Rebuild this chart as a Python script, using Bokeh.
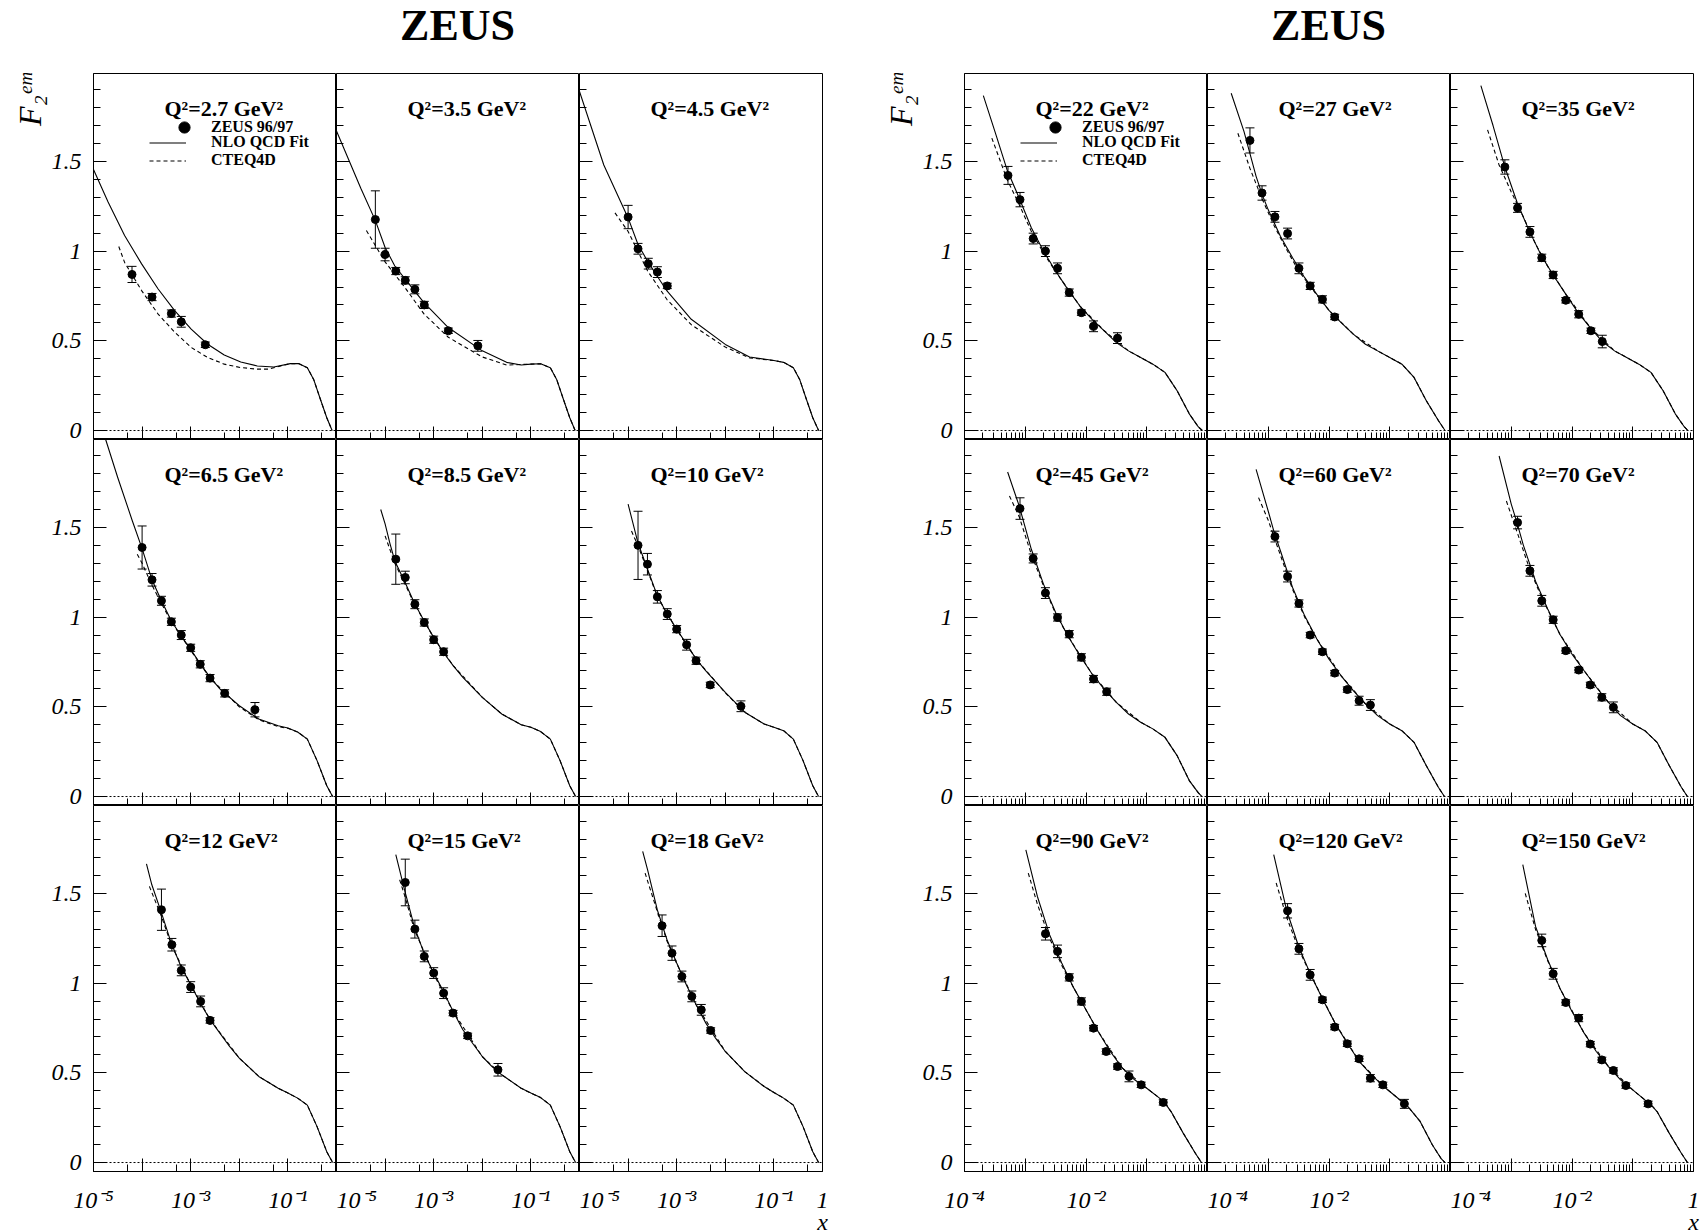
import numpy as np
from bokeh.plotting import figure
from bokeh.models import (Range1d, FixedTicker, Whisker, TeeHead, ColumnDataSource,
                          Label, Span, Legend, LegendItem, Title)
from bokeh.layouts import gridplot, column
from bokeh.embed import file_html
from bokeh.resources import INLINE

# ---------------- data ----------------
q2_labels = ["2.7", "3.5", "4.5", "6.5", "8.5", "10", "12", "15", "18",
             "22", "27", "35", "45", "60", "70", "90", "120", "150"]
group_titles = ["ZEUS", "ZEUS"]

# points: x, F2, total error ; curves: log10(x) grid and F2 values
p01_x = [6.2e-5, 1.6e-4, 4.0e-4, 6.4e-4, 2.0e-3]
p01_y = [0.87, 0.744, 0.652, 0.606, 0.478]
p01_e = [0.045, 0.02, 0.02, 0.03, 0.015]
p01_fit_lx = [-5.0, -4.7, -4.36, -4.01, -3.67, -3.33, -2.99, -2.65, -2.31, -1.97, -1.63, -1.29, -0.95, -0.78, -0.6, -0.47, -0.33, -0.2, -0.09]
p01_fit_y = [1.455, 1.274, 1.087, 0.929, 0.789, 0.668, 0.565, 0.481, 0.421, 0.382, 0.360, 0.354, 0.373, 0.373, 0.35, 0.285, 0.173, 0.071, 0.0]
p01_cteq_lx = [-4.48, -4.36, -4.01, -3.67, -3.33, -2.99, -2.65, -2.31, -1.97, -1.63, -1.4, -1.29, -0.95, -0.78, -0.6, -0.47, -0.33, -0.2, -0.09]
p01_cteq_y = [1.026, 0.937, 0.780, 0.649, 0.548, 0.463, 0.407, 0.370, 0.351, 0.342, 0.342, 0.350, 0.373, 0.373, 0.35, 0.285, 0.173, 0.071, 0.0]

p02_x = [6.3e-5, 1.0e-4, 1.66e-4, 2.6e-4, 4.1e-4, 6.4e-4, 2.0e-3, 8.1e-3]
p02_y = [1.176, 0.981, 0.889, 0.837, 0.787, 0.70, 0.556, 0.472]
p02_e = [0.16, 0.035, 0.02, 0.02, 0.025, 0.02, 0.015, 0.03]
p02_fit_lx = [-5.0, -4.5, -4.2, -4.0, -3.8, -3.4, -3.2, -2.7, -2.0, -1.5, -1.2, -1.0, -0.8, -0.6, -0.47, -0.33, -0.2, -0.09]
p02_fit_y = [1.67, 1.35, 1.17, 1.02, 0.917, 0.78, 0.713, 0.574, 0.444, 0.38, 0.365, 0.37, 0.372, 0.35, 0.285, 0.173, 0.071, 0.0]
p02_cteq_lx = [-4.385, -4.0, -3.6, -3.2, -2.7, -2.0, -1.5, -1.0, -0.8, -0.6, -0.47, -0.33, -0.2, -0.09]
p02_cteq_y = [1.115, 0.94, 0.80, 0.65, 0.52, 0.41, 0.365, 0.37, 0.372, 0.35, 0.285, 0.173, 0.071, 0.0]

p03_x = [1.0e-4, 1.6e-4, 2.6e-4, 4.0e-4, 6.4e-4]
p03_y = [1.19, 1.013, 0.93, 0.883, 0.806]
p03_e = [0.065, 0.03, 0.03, 0.03, 0.015]
p03_fit_lx = [-5.0, -4.5, -4.0, -3.8, -3.6, -3.4, -3.2, -2.7, -2.0, -1.5, -1.0, -0.8, -0.6, -0.47, -0.33, -0.2, -0.08]
p03_fit_y = [1.89, 1.48, 1.185, 1.04, 0.944, 0.86, 0.778, 0.62, 0.48, 0.41, 0.39, 0.38, 0.35, 0.285, 0.173, 0.071, 0.0]
p03_cteq_lx = [-4.27, -4.0, -3.6, -3.2, -2.7, -2.0, -1.5, -1.0, -0.8, -0.6, -0.47, -0.33, -0.2, -0.08]
p03_cteq_y = [1.213, 1.11, 0.89, 0.73, 0.59, 0.465, 0.405, 0.39, 0.38, 0.35, 0.285, 0.173, 0.071, 0.0]

p04_x = [1.0e-4, 1.6e-4, 2.5e-4, 4.0e-4, 6.4e-4, 1.0e-3, 1.57e-3, 2.5e-3, 5.0e-3, 2.1e-2]
p04_y = [1.388, 1.208, 1.091, 0.974, 0.90, 0.829, 0.737, 0.660, 0.575, 0.484]
p04_e = [0.12, 0.035, 0.025, 0.02, 0.025, 0.02, 0.02, 0.02, 0.02, 0.04]
p04_fit_lx = [-4.75, -4.5, -4.2, -4.0, -3.8, -3.6, -3.4, -3.2, -3.0, -2.8, -2.6, -2.4, -2.0, -1.6, -1.2, -1.0, -0.8, -0.6, -0.4, -0.2, -0.08]
p04_fit_y = [1.99, 1.777, 1.536, 1.382, 1.21, 1.09, 0.98, 0.896, 0.82, 0.738, 0.664, 0.60, 0.506, 0.432, 0.395, 0.382, 0.36, 0.32, 0.20, 0.06, 0.0]
p04_cteq_lx = [-4.1, -4.0, -3.8, -3.6, -3.4, -3.0, -2.6, -2.0, -1.6, -1.2, -1.0, -0.8, -0.6, -0.4, -0.2, -0.08]
p04_cteq_y = [1.35, 1.30, 1.18, 1.075, 0.975, 0.815, 0.66, 0.50, 0.428, 0.39, 0.38, 0.36, 0.32, 0.20, 0.06, 0.0]

p05_x = [1.66e-4, 2.6e-4, 4.1e-4, 6.4e-4, 1.0e-3, 1.6e-3]
p05_y = [1.323, 1.221, 1.072, 0.970, 0.874, 0.807]
p05_e = [0.14, 0.035, 0.025, 0.02, 0.02, 0.02]
p05_fit_lx = [-4.09, -4.0, -3.9, -3.8, -3.6, -3.4, -3.2, -3.0, -2.8, -2.6, -2.4, -2.0, -1.6, -1.2, -1.0, -0.8, -0.6, -0.4, -0.2, -0.08]
p05_fit_y = [1.60, 1.52, 1.41, 1.313, 1.20, 1.08, 0.98, 0.887, 0.803, 0.73, 0.664, 0.553, 0.46, 0.40, 0.386, 0.362, 0.32, 0.20, 0.06, 0.0]
p05_cteq_lx = [-4.0, -3.8, -3.6, -3.4, -3.0, -2.6, -2.0, -1.6, -1.2, -1.0, -0.8, -0.6, -0.4, -0.2, -0.08]
p05_cteq_y = [1.453, 1.30, 1.19, 1.075, 0.885, 0.73, 0.553, 0.46, 0.40, 0.386, 0.362, 0.32, 0.20, 0.06, 0.0]

p06_x = [1.6e-4, 2.5e-4, 4.0e-4, 6.4e-4, 1.0e-3, 1.6e-3, 2.5e-3, 4.9e-3, 2.1e-2]
p06_y = [1.40, 1.295, 1.113, 1.017, 0.933, 0.846, 0.757, 0.622, 0.503]
p06_e = [0.19, 0.06, 0.035, 0.03, 0.02, 0.03, 0.02, 0.015, 0.03]
p06_fit_lx = [-4.0, -3.8, -3.6, -3.4, -3.2, -3.0, -2.8, -2.6, -2.4, -2.0, -1.6, -1.2, -1.0, -0.8, -0.6, -0.4, -0.2, -0.08]
p06_fit_y = [1.63, 1.416, 1.267, 1.12, 1.017, 0.933, 0.85, 0.766, 0.70, 0.58, 0.47, 0.404, 0.386, 0.367, 0.32, 0.20, 0.06, 0.0]
p06_cteq_lx = [-3.93, -3.8, -3.6, -3.4, -3.0, -2.6, -2.0, -1.6, -1.2, -1.0, -0.8, -0.6, -0.4, -0.2, -0.08]
p06_cteq_y = [1.48, 1.40, 1.26, 1.115, 0.93, 0.766, 0.578, 0.47, 0.404, 0.386, 0.367, 0.32, 0.20, 0.06, 0.0]

p07_x = [2.5e-4, 4.1e-4, 6.4e-4, 1.0e-3, 1.6e-3, 2.5e-3]
p07_y = [1.409, 1.214, 1.071, 0.978, 0.898, 0.792]
p07_e = [0.115, 0.035, 0.03, 0.03, 0.03, 0.015]
p07_fit_lx = [-3.91, -3.8, -3.6, -3.4, -3.2, -3.0, -2.8, -2.6, -2.4, -2.2, -2.0, -1.6, -1.2, -1.0, -0.8, -0.6, -0.4, -0.2, -0.08]
p07_fit_y = [1.665, 1.548, 1.39, 1.223, 1.093, 0.991, 0.888, 0.796, 0.721, 0.647, 0.582, 0.48, 0.414, 0.387, 0.359, 0.32, 0.20, 0.06, 0.0]
p07_cteq_lx = [-3.85, -3.6, -3.4, -3.0, -2.6, -2.0, -1.6, -1.2, -1.0, -0.8, -0.6, -0.4, -0.2, -0.08]
p07_cteq_y = [1.539, 1.37, 1.215, 0.99, 0.796, 0.582, 0.48, 0.414, 0.387, 0.359, 0.32, 0.20, 0.06, 0.0]

p08_x = [2.6e-4, 4.1e-4, 6.4e-4, 1.0e-3, 1.6e-3, 2.5e-3, 5.0e-3, 2.1e-2]
p08_y = [1.561, 1.301, 1.149, 1.056, 0.944, 0.833, 0.706, 0.517]
p08_e = [0.13, 0.05, 0.03, 0.03, 0.03, 0.015, 0.015, 0.035]
p08_fit_lx = [-3.78, -3.6, -3.4, -3.2, -3.0, -2.8, -2.6, -2.4, -2.2, -2.0, -1.8, -1.6, -1.2, -1.0, -0.8, -0.6, -0.4, -0.2, -0.08]
p08_fit_y = [1.716, 1.52, 1.316, 1.167, 1.056, 0.954, 0.842, 0.74, 0.665, 0.591, 0.535, 0.489, 0.414, 0.387, 0.362, 0.32, 0.20, 0.06, 0.0]
p08_cteq_lx = [-3.70, -3.6, -3.4, -3.0, -2.6, -2.0, -1.6, -1.2, -1.0, -0.8, -0.6, -0.4, -0.2, -0.08]
p08_cteq_y = [1.576, 1.49, 1.30, 1.05, 0.842, 0.59, 0.489, 0.414, 0.387, 0.362, 0.32, 0.20, 0.06, 0.0]

p09_x = [5.0e-4, 8.0e-4, 1.28e-3, 2.05e-3, 3.2e-3, 5.0e-3]
p09_y = [1.32, 1.167, 1.037, 0.926, 0.851, 0.736]
p09_e = [0.06, 0.04, 0.03, 0.03, 0.03, 0.015]
p09_fit_lx = [-3.70, -3.6, -3.4, -3.2, -3.0, -2.8, -2.6, -2.4, -2.2, -2.0, -1.6, -1.2, -1.0, -0.8, -0.6, -0.4, -0.2, -0.08]
p09_fit_y = [1.734, 1.632, 1.409, 1.242, 1.112, 0.99, 0.879, 0.777, 0.693, 0.619, 0.507, 0.424, 0.39, 0.359, 0.32, 0.20, 0.06, 0.0]
p09_cteq_lx = [-3.65, -3.4, -3.2, -3.0, -2.6, -2.0, -1.6, -1.2, -1.0, -0.8, -0.6, -0.4, -0.2, -0.08]
p09_cteq_y = [1.613, 1.40, 1.235, 1.11, 0.879, 0.619, 0.507, 0.424, 0.39, 0.359, 0.32, 0.20, 0.06, 0.0]

p10_x = [5.2e-4, 8.2e-4, 1.35e-3, 2.15e-3, 3.4e-3, 5.3e-3, 8.4e-3, 1.33e-2, 3.3e-2]
p10_y = [1.422, 1.287, 1.07, 1.0, 0.904, 0.769, 0.657, 0.581, 0.515]
p10_e = [0.05, 0.04, 0.03, 0.03, 0.03, 0.02, 0.015, 0.03, 0.03]
p10_fit_lx = [-3.69, -3.5, -3.3, -3.1, -2.9, -2.7, -2.5, -2.3, -2.1, -1.9, -1.7, -1.5, -1.3, -1.1, -0.9, -0.7, -0.5, -0.3, -0.15, -0.085]
p10_fit_y = [1.867, 1.667, 1.454, 1.296, 1.13, 1.0, 0.889, 0.787, 0.694, 0.62, 0.556, 0.49, 0.444, 0.407, 0.37, 0.324, 0.222, 0.093, 0.02, 0.0]
p10_cteq_lx = [-3.55, -3.3, -3.1, -2.9, -2.7, -2.5, -2.1, -1.7, -1.3, -1.1, -0.9, -0.7, -0.5, -0.3, -0.15, -0.085]
p10_cteq_y = [1.63, 1.40, 1.26, 1.11, 0.99, 0.885, 0.694, 0.556, 0.444, 0.407, 0.37, 0.324, 0.222, 0.093, 0.02, 0.0]

p11_x = [5.0e-4, 7.9e-4, 1.29e-3, 2.08e-3, 3.2e-3, 4.9e-3, 7.8e-3, 1.24e-2]
p11_y = [1.617, 1.324, 1.191, 1.098, 0.904, 0.806, 0.731, 0.633]
p11_e = [0.07, 0.04, 0.03, 0.03, 0.03, 0.02, 0.02, 0.015]
p11_fit_lx = [-3.61, -3.4, -3.2, -3.1, -3.0, -2.8, -2.6, -2.4, -2.2, -2.0, -1.8, -1.6, -1.4, -1.2, -1.0, -0.8, -0.6, -0.4, -0.2, -0.09]
p11_fit_y = [1.88, 1.667, 1.417, 1.315, 1.23, 1.083, 0.963, 0.852, 0.759, 0.67, 0.602, 0.537, 0.481, 0.444, 0.407, 0.37, 0.296, 0.167, 0.056, 0.0]
p11_cteq_lx = [-3.50, -3.3, -3.1, -2.9, -2.7, -2.5, -2.2, -2.0, -1.6, -1.2, -1.0, -0.8, -0.6, -0.4, -0.2, -0.09]
p11_cteq_y = [1.657, 1.46, 1.29, 1.14, 1.01, 0.89, 0.755, 0.67, 0.537, 0.444, 0.407, 0.37, 0.296, 0.167, 0.056, 0.0]

p12_x = [7.85e-4, 1.27e-3, 2.03e-3, 3.18e-3, 4.9e-3, 7.9e-3, 1.29e-2, 2.05e-2, 3.15e-2]
p12_y = [1.469, 1.241, 1.107, 0.963, 0.867, 0.726, 0.648, 0.556, 0.496]
p12_e = [0.04, 0.025, 0.03, 0.02, 0.02, 0.015, 0.02, 0.015, 0.035]
p12_fit_lx = [-3.50, -3.3, -3.1, -2.9, -2.7, -2.5, -2.3, -2.1, -1.9, -1.7, -1.5, -1.3, -1.1, -0.9, -0.7, -0.5, -0.3, -0.15, -0.09]
p12_fit_y = [1.922, 1.70, 1.463, 1.268, 1.11, 0.972, 0.861, 0.759, 0.657, 0.574, 0.496, 0.444, 0.407, 0.37, 0.324, 0.222, 0.093, 0.02, 0.0]
p12_cteq_lx = [-3.39, -3.2, -3.0, -2.8, -2.6, -2.4, -2.1, -1.7, -1.3, -1.1, -0.9, -0.7, -0.5, -0.3, -0.15, -0.09]
p12_cteq_y = [1.676, 1.48, 1.33, 1.19, 1.04, 0.915, 0.759, 0.574, 0.444, 0.407, 0.37, 0.324, 0.222, 0.093, 0.02, 0.0]

p13_x = [8.2e-4, 1.35e-3, 2.15e-3, 3.4e-3, 5.3e-3, 8.4e-3, 1.33e-2, 2.19e-2]
p13_y = [1.605, 1.327, 1.134, 0.998, 0.905, 0.776, 0.655, 0.584]
p13_e = [0.06, 0.025, 0.03, 0.02, 0.02, 0.02, 0.02, 0.02]
p13_fit_lx = [-3.29, -3.1, -2.9, -2.7, -2.5, -2.3, -2.1, -1.9, -1.7, -1.5, -1.3, -1.1, -0.9, -0.7, -0.5, -0.3, -0.15, -0.09]
p13_fit_y = [1.809, 1.62, 1.378, 1.184, 1.026, 0.896, 0.785, 0.683, 0.599, 0.525, 0.46, 0.414, 0.377, 0.33, 0.228, 0.089, 0.02, 0.0]
p13_cteq_lx = [-3.26, -3.1, -2.9, -2.7, -2.5, -2.3, -1.9, -1.5, -1.1, -0.9, -0.7, -0.5, -0.3, -0.15, -0.09]
p13_cteq_y = [1.675, 1.56, 1.35, 1.175, 1.02, 0.896, 0.683, 0.525, 0.414, 0.377, 0.33, 0.228, 0.089, 0.02, 0.0]

p14_x = [1.29e-3, 2.08e-3, 3.2e-3, 4.9e-3, 7.8e-3, 1.24e-2, 2.0e-2, 3.13e-2, 4.8e-2]
p14_y = [1.449, 1.226, 1.076, 0.90, 0.807, 0.688, 0.596, 0.534, 0.51]
p14_e = [0.03, 0.03, 0.02, 0.015, 0.015, 0.015, 0.015, 0.025, 0.03]
p14_fit_lx = [-3.20, -3.0, -2.9, -2.8, -2.6, -2.4, -2.2, -2.0, -1.8, -1.6, -1.4, -1.2, -1.0, -0.8, -0.6, -0.4, -0.2, -0.1]
p14_fit_y = [1.824, 1.59, 1.47, 1.37, 1.165, 1.007, 0.878, 0.766, 0.673, 0.59, 0.516, 0.451, 0.404, 0.367, 0.302, 0.173, 0.052, 0.0]
p14_cteq_lx = [-3.16, -3.0, -2.8, -2.6, -2.4, -2.2, -1.8, -1.4, -1.0, -0.8, -0.6, -0.4, -0.2, -0.1]
p14_cteq_y = [1.666, 1.54, 1.345, 1.155, 1.0, 0.878, 0.673, 0.516, 0.404, 0.367, 0.302, 0.173, 0.052, 0.0]

p15_x = [1.27e-3, 2.03e-3, 3.18e-3, 4.9e-3, 7.9e-3, 1.29e-2, 2.0e-2, 3.1e-2, 4.8e-2]
p15_y = [1.527, 1.258, 1.091, 0.985, 0.813, 0.705, 0.622, 0.553, 0.497]
p15_e = [0.035, 0.03, 0.03, 0.02, 0.015, 0.015, 0.015, 0.02, 0.03]
p15_fit_lx = [-3.20, -3.0, -2.9, -2.8, -2.6, -2.4, -2.2, -2.0, -1.8, -1.6, -1.4, -1.2, -1.0, -0.8, -0.6, -0.4, -0.2, -0.1]
p15_fit_y = [1.898, 1.63, 1.52, 1.40, 1.20, 1.045, 0.905, 0.794, 0.701, 0.609, 0.525, 0.451, 0.404, 0.367, 0.302, 0.173, 0.052, 0.0]
p15_cteq_lx = [-3.08, -2.9, -2.7, -2.5, -2.2, -1.8, -1.4, -1.0, -0.8, -0.6, -0.4, -0.2, -0.1]
p15_cteq_y = [1.647, 1.47, 1.27, 1.11, 0.905, 0.701, 0.525, 0.404, 0.367, 0.302, 0.173, 0.052, 0.0]

p16_x = [2.15e-3, 3.4e-3, 5.3e-3, 8.4e-3, 1.33e-2, 2.15e-2, 3.3e-2, 5.1e-2, 8.1e-2, 0.187]
p16_y = [1.275, 1.177, 1.032, 0.898, 0.749, 0.619, 0.535, 0.48, 0.433, 0.335]
p16_e = [0.035, 0.035, 0.02, 0.02, 0.015, 0.015, 0.015, 0.03, 0.015, 0.015]
p16_fit_lx = [-2.99, -2.8, -2.6, -2.4, -2.2, -2.0, -1.8, -1.6, -1.4, -1.2, -1.0, -0.8, -0.7, -0.6, -0.4, -0.2, -0.1]
p16_fit_y = [1.743, 1.483, 1.27, 1.112, 0.972, 0.851, 0.73, 0.619, 0.526, 0.461, 0.414, 0.362, 0.331, 0.284, 0.164, 0.052, 0.0]
p16_cteq_lx = [-2.95, -2.8, -2.6, -2.4, -2.2, -1.8, -1.4, -1.0, -0.8, -0.7, -0.6, -0.4, -0.2, -0.1]
p16_cteq_y = [1.613, 1.44, 1.25, 1.10, 0.972, 0.73, 0.526, 0.414, 0.362, 0.331, 0.284, 0.164, 0.052, 0.0]

p17_x = [2.08e-3, 3.2e-3, 4.9e-3, 7.8e-3, 1.24e-2, 2.0e-2, 3.13e-2, 4.8e-2, 7.7e-2, 0.174]
p17_y = [1.403, 1.191, 1.046, 0.907, 0.755, 0.662, 0.578, 0.470, 0.433, 0.327]
p17_e = [0.04, 0.03, 0.03, 0.015, 0.015, 0.015, 0.015, 0.02, 0.015, 0.025]
p17_fit_lx = [-2.91, -2.7, -2.5, -2.3, -2.1, -1.9, -1.7, -1.5, -1.3, -1.1, -0.9, -0.7, -0.5, -0.3, -0.15, -0.09]
p17_fit_y = [1.716, 1.409, 1.204, 1.046, 0.907, 0.777, 0.665, 0.563, 0.489, 0.424, 0.368, 0.312, 0.229, 0.099, 0.02, 0.0]
p17_cteq_lx = [-2.87, -2.7, -2.5, -2.3, -1.9, -1.5, -1.1, -0.9, -0.7, -0.5, -0.3, -0.15, -0.09]
p17_cteq_y = [1.558, 1.37, 1.19, 1.046, 0.777, 0.563, 0.424, 0.368, 0.312, 0.229, 0.099, 0.02, 0.0]

p18_x = [3.18e-3, 4.9e-3, 7.9e-3, 1.29e-2, 2.0e-2, 3.1e-2, 4.8e-2, 7.7e-2, 0.179]
p18_y = [1.238, 1.052, 0.892, 0.805, 0.66, 0.572, 0.513, 0.429, 0.327]
p18_e = [0.035, 0.03, 0.015, 0.02, 0.015, 0.015, 0.015, 0.015, 0.015]
p18_fit_lx = [-2.81, -2.6, -2.4, -2.2, -2.0, -1.8, -1.6, -1.4, -1.2, -1.0, -0.8, -0.7, -0.6, -0.4, -0.2, -0.1]
p18_fit_y = [1.66, 1.316, 1.13, 0.972, 0.842, 0.721, 0.619, 0.535, 0.461, 0.405, 0.349, 0.322, 0.284, 0.164, 0.052, 0.0]
p18_cteq_lx = [-2.77, -2.6, -2.4, -2.2, -1.8, -1.4, -1.0, -0.8, -0.7, -0.6, -0.4, -0.2, -0.1]
p18_cteq_y = [1.50, 1.30, 1.125, 0.972, 0.721, 0.535, 0.405, 0.349, 0.322, 0.284, 0.164, 0.052, 0.0]

panels = [
    (p01_x, p01_y, p01_e, p01_fit_lx, p01_fit_y, p01_cteq_lx, p01_cteq_y),
    (p02_x, p02_y, p02_e, p02_fit_lx, p02_fit_y, p02_cteq_lx, p02_cteq_y),
    (p03_x, p03_y, p03_e, p03_fit_lx, p03_fit_y, p03_cteq_lx, p03_cteq_y),
    (p04_x, p04_y, p04_e, p04_fit_lx, p04_fit_y, p04_cteq_lx, p04_cteq_y),
    (p05_x, p05_y, p05_e, p05_fit_lx, p05_fit_y, p05_cteq_lx, p05_cteq_y),
    (p06_x, p06_y, p06_e, p06_fit_lx, p06_fit_y, p06_cteq_lx, p06_cteq_y),
    (p07_x, p07_y, p07_e, p07_fit_lx, p07_fit_y, p07_cteq_lx, p07_cteq_y),
    (p08_x, p08_y, p08_e, p08_fit_lx, p08_fit_y, p08_cteq_lx, p08_cteq_y),
    (p09_x, p09_y, p09_e, p09_fit_lx, p09_fit_y, p09_cteq_lx, p09_cteq_y),
    (p10_x, p10_y, p10_e, p10_fit_lx, p10_fit_y, p10_cteq_lx, p10_cteq_y),
    (p11_x, p11_y, p11_e, p11_fit_lx, p11_fit_y, p11_cteq_lx, p11_cteq_y),
    (p12_x, p12_y, p12_e, p12_fit_lx, p12_fit_y, p12_cteq_lx, p12_cteq_y),
    (p13_x, p13_y, p13_e, p13_fit_lx, p13_fit_y, p13_cteq_lx, p13_cteq_y),
    (p14_x, p14_y, p14_e, p14_fit_lx, p14_fit_y, p14_cteq_lx, p14_cteq_y),
    (p15_x, p15_y, p15_e, p15_fit_lx, p15_fit_y, p15_cteq_lx, p15_cteq_y),
    (p16_x, p16_y, p16_e, p16_fit_lx, p16_fit_y, p16_cteq_lx, p16_cteq_y),
    (p17_x, p17_y, p17_e, p17_fit_lx, p17_fit_y, p17_cteq_lx, p17_cteq_y),
    (p18_x, p18_y, p18_e, p18_fit_lx, p18_fit_y, p18_cteq_lx, p18_cteq_y),
]

# ---------------- styling / layout ----------------
FW, FH = 243, 366
HEADER_H = 73
Y_RANGE = (-0.05, 1.99)
X_RANGES = [(1e-5, 1.0), (1e-4, 1.0)]
SERIF = "Liberation Serif"

y_major = [0, 0.5, 1, 1.5]
y_minor = [0.1, 0.2, 0.3, 0.4, 0.6, 0.7, 0.8, 0.9, 1.1, 1.2, 1.3, 1.4, 1.6, 1.7, 1.8, 1.9]
x_major = [[1e-5, 1e-4, 1e-3, 1e-2, 1e-1, 1.0], [1e-4, 1e-3, 1e-2, 1e-1, 1.0]]
x_minor = [[5e-5, 5e-4, 5e-3, 5e-2, 5e-1],
           [k * 10.0 ** e for e in (-4, -3, -2, -1) for k in range(2, 10)]]
x_labels = [
    {1e-5: "10\u207b\u2075", 1e-4: " ", 1e-3: "10\u207b\u00b3", 1e-2: " ", 1e-1: "10\u207b\u00b9"},
    {1e-4: "10\u207b\u2074", 1e-3: " ", 1e-2: "10\u207b\u00b2", 1e-1: " "},
]


def style_axis(ax, show, standoff):
    ax.major_tick_in, ax.major_tick_out = 13, 0
    ax.minor_tick_in, ax.minor_tick_out = 7, 0
    ax.axis_line_color = "black"
    ax.major_tick_line_color = "black"
    ax.minor_tick_line_color = "black"
    ax.major_label_text_font = SERIF
    ax.major_label_text_font_style = "italic"
    ax.major_label_text_font_size = "24px"
    if show:
        ax.major_label_text_color = "black"
        ax.major_label_standoff = standoff
    else:
        ax.major_label_text_color = None
        ax.major_label_standoff = 0


def make_panel(g, r, c):
    idx = g * 9 + r * 3 + c
    px, py, pe, flx, fy, clx, cy = panels[idx]
    mbl = (93 if g == 0 else 132) if c == 0 else 0
    mbr = (10 if g == 0 else 7) if c == 2 else 0
    mbb = 59 if r == 2 else 0
    p = figure(frame_width=FW, frame_height=FH, x_axis_type="log",
               x_range=Range1d(*X_RANGES[g]), y_range=Range1d(*Y_RANGE),
               output_backend="svg", toolbar_location=None, title=None,
               min_border_left=mbl, min_border_right=mbr,
               min_border_top=0, min_border_bottom=mbb)
    p.background_fill_color = "white"
    p.border_fill_color = "white"
    p.outline_line_color = "black"
    p.outline_line_width = 1
    p.grid.visible = False

    ya = p.yaxis[0]
    ya.ticker = FixedTicker(ticks=y_major, minor_ticks=y_minor)
    ya.major_label_overrides = {0: "0", 0.5: "0.5", 1: "1", 1.5: "1.5"}
    style_axis(ya, c == 0, 12)

    xa = p.xaxis[0]
    xa.ticker = FixedTicker(ticks=x_major[g], minor_ticks=x_minor[g])
    labels = dict(x_labels[g])
    labels[1.0] = "1\nx" if c == 2 else " "
    xa.major_label_overrides = labels
    style_axis(xa, r == 2, 15)
    xa.major_label_text_line_height = 0.85

    p.add_layout(Span(location=0, dimension="width", line_color="black",
                      line_dash="2 2", line_width=1))

    cteq = p.line(10 ** np.array(clx), cy, line_color="black", line_width=1.1, line_dash="4 3")
    fit = p.line(10 ** np.array(flx), fy, line_color="black", line_width=1.1)

    src = ColumnDataSource(dict(x=px, lo=np.array(py) - np.array(pe), hi=np.array(py) + np.array(pe)))
    p.add_layout(Whisker(source=src, base="x", upper="hi", lower="lo", dimension="height",
                         line_color="black", line_width=1,
                         upper_head=TeeHead(size=9, line_color="black", line_width=1),
                         lower_head=TeeHead(size=9, line_color="black", line_width=1)))
    pts = p.scatter(px, py, size=8, color="black")

    p.add_layout(Label(x=71, y=FH - 35, x_units="screen", y_units="screen",
                       text=f"Q\u00b2={q2_labels[idx]} GeV\u00b2", text_font=SERIF,
                       text_font_style="bold", text_font_size="22px",
                       text_baseline="alphabetic", text_color="black"))

    if r == 0 and c == 0:
        common = dict(border_line_color=None, background_fill_alpha=0, padding=0, margin=0,
                      spacing=0, label_text_font=SERIF, label_text_font_style="bold",
                      label_text_font_size="16px", label_text_color="black")
        p.add_layout(Legend(items=[LegendItem(label="ZEUS 96/97", renderers=[pts])],
                            location=(77, 298), glyph_width=28, glyph_height=28,
                            label_height=28, label_standoff=13, **common))
        p.add_layout(Legend(items=[LegendItem(label="NLO QCD Fit", renderers=[fit]),
                                   LegendItem(label="CTEQ4D", renderers=[cteq])],
                            location=(56, 270), glyph_width=37, glyph_height=17,
                            label_height=17, label_standoff=25, **common))
        # y-axis title
        p.add_layout(Title(text="F\u2082\u1d49\u1d50", align="right", standoff=2,
                           text_font=SERIF, text_font_style="italic", text_font_size="32px",
                           text_color="black"), "left")
    return p


# header strip carrying the two "ZEUS" group titles
header = figure(width=1700, height=HEADER_H, x_range=Range1d(0, 1700), y_range=Range1d(0, HEADER_H),
                output_backend="svg", toolbar_location=None, title=None, min_border=0)
header.axis.visible = False
header.grid.visible = False
header.outline_line_color = None
header.background_fill_color = "white"
header.border_fill_color = "white"
for gx, txt in zip((457, 1328), group_titles):
    header.add_layout(Label(x=gx, y=HEADER_H - 25, x_units="screen", y_units="screen", text=txt,
                            text_font=SERIF, text_font_style="bold", text_font_size="44px",
                            text_align="center", text_baseline="middle", text_color="black"))

rows = []
for r in range(3):
    rows.append([make_panel(g, r, c) for g in range(2) for c in range(3)])

grid = gridplot(rows, toolbar_location=None)
open("out.html", "w").write(file_html(column(header, grid), INLINE))
